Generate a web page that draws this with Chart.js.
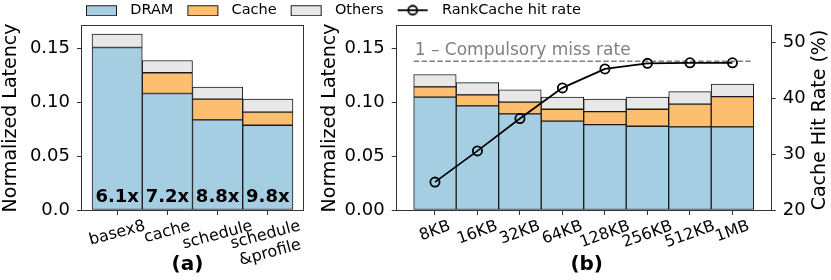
<!DOCTYPE html>
<html><head><meta charset="utf-8">
<script src="https://cdn.jsdelivr.net/npm/chart.js@4.4.0/dist/chart.umd.min.js"></script>
<style>
html,body{margin:0;padding:0;background:#fff;}
#wrap{position:relative;width:831px;height:280px;overflow:hidden;background:#fff;}
#wrap canvas{position:absolute;left:0;top:0;}
</style></head><body>
<div id="wrap">
<canvas id="cA" width="340" height="280"></canvas>
<canvas id="cB" width="831" height="280"></canvas>
</div>
<script>
// ---------------- data ----------------
const variantLabels = [['basex8'], ['cache'], ['schedule'], ['schedule', '&profile']];
const variantDram   = [0.1511, 0.1083, 0.0838, 0.0788];
const variantCache  = [0.0000, 0.0193, 0.0193, 0.0122];
const variantOthers = [0.0125, 0.0114, 0.0111, 0.0121];
const speedupLabels = ['6.1x', '7.2x', '8.8x', '9.8x'];

const sizeLabels = ['8KB', '16KB', '32KB', '64KB', '128KB', '256KB', '512KB', '1MB'];
const sizeDram   = [0.1049, 0.0968, 0.0894, 0.0826, 0.0794, 0.0779, 0.0773, 0.0773];
const sizeCache  = [0.0096, 0.0103, 0.0109, 0.0111, 0.0121, 0.0158, 0.0211, 0.0282];
const sizeOthers = [0.0115, 0.0114, 0.0114, 0.0112, 0.0116, 0.0112, 0.0117, 0.0115];
const hitRate    = [25.0, 30.6, 36.4, 41.9, 45.3, 46.3, 46.4, 46.4];
const compulsoryBound = 46.7;
const boundSpan = [-0.5, 7.43];

const latencyTicksA = [0, 0.05, 0.10, 0.15];
const latencyTicksB = [0, 0.05, 0.10, 0.15];
const hitTicks = [20, 30, 40, 50];

// ---------------- style ----------------
const FONT = "'DejaVu Sans', sans-serif";
Chart.defaults.font.family = FONT;
Chart.defaults.color = '#000';
const C_DRAM = '#a6cee3', C_CACHE = '#fdbf6f', C_OTHER = '#e8e8e8', EDGE = '#1a1a1a', AX = '#333';

function xy(arr) { return arr.map((v, i) => ({x: i, y: v})); }
function barDs(label, arr, color) {
  return {type: 'bar', label, data: xy(arr), xAxisID: 'x', yAxisID: 'y', backgroundColor: color, borderColor: EDGE,
    borderWidth: 1, borderSkipped: false, categoryPercentage: 1, barPercentage: 1, order: 1};
}
const gridOpt = {drawOnChartArea: false, drawTicks: true, tickLength: 5, tickColor: AX, tickWidth: 1, color: AX, offset: false};

function setTicks(values) { return s => { s.ticks = values.map(v => ({value: v})); }; }

function drawTickLabels(chart, labels, angleDeg, fontSize) {
  const ctx = chart.ctx, xs = chart.scales.x, a = chart.chartArea;
  const th = angleDeg * Math.PI / 180;
  ctx.save();
  ctx.font = fontSize + 'px ' + FONT;
  ctx.fillStyle = '#000';
  ctx.textAlign = 'center'; ctx.textBaseline = 'middle';
  const lh = fontSize * 1.15;
  labels.forEach((lines, i) => {
    const arr = Array.isArray(lines) ? lines : [lines];
    const W = Math.max(...arr.map(s => ctx.measureText(s).width));
    const H = arr.length * lh;
    const bh = W * Math.sin(th) + H * Math.cos(th);
    const cx = xs.getPixelForValue(i);
    const cy = a.bottom + 7 + bh / 2;
    ctx.save(); ctx.translate(cx, cy); ctx.rotate(-th);
    arr.forEach((s, j) => ctx.fillText(s, 0, (j - (arr.length - 1) / 2) * lh));
    ctx.restore();
  });
  ctx.restore();
}
function drawFrame(chart) {
  const ctx = chart.ctx, a = chart.chartArea;
  ctx.save(); ctx.strokeStyle = AX; ctx.lineWidth = 1;
  ctx.strokeRect(Math.round(a.left) - 0.5, Math.round(a.top) - 0.5, Math.round(a.right - a.left) + 1, Math.round(a.bottom - a.top) + 1);
  ctx.restore();
}
function drawSubLabel(chart, text, dx) {
  const ctx = chart.ctx, a = chart.chartArea;
  ctx.save(); ctx.font = 'bold 20px ' + FONT; ctx.fillStyle = '#000';
  ctx.textAlign = 'center'; ctx.textBaseline = 'middle';
  ctx.fillText(text, (a.left + a.right) / 2 + dx, a.bottom + 55);
  ctx.restore();
}

// ---------------- chart (a) ----------------
new Chart(document.getElementById('cA'), {
  type: 'bar',
  data: { datasets: [ barDs('DRAM', variantDram, C_DRAM), barDs('Cache', variantCache, C_CACHE), barDs('Others', variantOthers, C_OTHER) ] },
  options: {
    responsive: false, animation: false, events: [], devicePixelRatio: 1,
    layout: { padding: {top: 26, left: 0, right: 37, bottom: 0} },
    plugins: { legend: {display: false}, tooltip: {enabled: false} },
    scales: {
      x: { type: 'linear', min: -0.7, max: 3.7, offset: false, stacked: true, afterBuildTicks: setTicks(variantLabels.map((_, i) => i)),
           ticks: {display: false}, grid: gridOpt, border: {display: false},
           afterFit: s => { s.height = 70; } },
      y: { type: 'linear', min: 0, max: 0.1711, stacked: true, afterBuildTicks: setTicks(latencyTicksA),
           ticks: { font: {size: 18}, color: '#000', padding: 7, callback: v => v === 0 ? '0.0' : v.toFixed(2) },
           grid: gridOpt, border: {display: false},
           title: { display: true, text: 'Normalized Latency', font: {size: 19}, color: '#000', padding: 0 },
           afterFit: s => { s.width = 82; } }
    }
  },
  plugins: [{
    id: 'decorA',
    afterDraw(chart) {
      drawFrame(chart);
      drawTickLabels(chart, variantLabels, 15, 16);
      const ctx = chart.ctx, a = chart.chartArea, meta = chart.getDatasetMeta(0);
      ctx.save(); ctx.font = 'bold 18px ' + FONT; ctx.fillStyle = '#000';
      ctx.textAlign = 'center'; ctx.textBaseline = 'middle';
      speedupLabels.forEach((t, i) => ctx.fillText(t, meta.data[i].x, a.bottom - 13));
      ctx.restore();
      drawSubLabel(chart, '(a)', -5);
    }
  }]
});

// ---------------- legend icons ----------------
function swatch(color) {
  const c = document.createElement('canvas'); c.width = 51; c.height = 12;
  const g = c.getContext('2d');
  g.fillStyle = color; g.fillRect(14.5, 1.5, 30, 10);
  g.strokeStyle = EDGE; g.lineWidth = 1; g.strokeRect(14.5, 1.5, 30, 10);
  return c;
}
function lineIcon() {
  const c = document.createElement('canvas'); c.width = 51; c.height = 12;
  const g = c.getContext('2d');
  g.strokeStyle = '#000'; g.lineWidth = 1.8;
  g.beginPath(); g.moveTo(14, 6); g.lineTo(44, 6); g.stroke();
  g.beginPath(); g.arc(29, 6, 4.5, 0, Math.PI * 2); g.stroke();
  return c;
}
const legendIcons = [swatch(C_DRAM), swatch(C_CACHE), swatch(C_OTHER), lineIcon()];

// ---------------- chart (b) ----------------
new Chart(document.getElementById('cB'), {
  type: 'bar',
  data: { datasets: [
    barDs('DRAM', sizeDram, C_DRAM), barDs('Cache', sizeCache, C_CACHE), barDs('Others', sizeOthers, C_OTHER),
    { type: 'line', label: 'RankCache hit rate', data: xy(hitRate), xAxisID: 'x', yAxisID: 'y2', order: 0,
      borderColor: '#000', borderWidth: 1.8, tension: 0, pointRadius: 4.6, pointBorderWidth: 1.8,
      pointBorderColor: '#000', pointBackgroundColor: 'rgba(0,0,0,0)' },
    { type: 'line', label: 'bound', data: boundSpan.map(x => ({x, y: compulsoryBound})), xAxisID: 'x', yAxisID: 'y2', order: 0,
      borderColor: '#808080', borderWidth: 1.5, borderDash: [5.5, 2.4], pointRadius: 0 }
  ] },
  options: {
    responsive: false, animation: false, events: [], devicePixelRatio: 1,
    layout: { padding: {top: 1.5, left: 0, right: 0, bottom: 0} },
    plugins: {
      tooltip: {enabled: false},
      legend: { display: true, position: 'top', align: 'start',
        labels: { usePointStyle: true, pointStyleWidth: 51, boxHeight: 12, padding: 0,
          font: {size: 14.5}, color: '#000',
          generateLabels: chart => chart.data.datasets.slice(0, 4).map((ds, i) => ({
            text: ds.label, pointStyle: legendIcons[i], datasetIndex: i, hidden: false, lineWidth: 0,
            fillStyle: 'rgba(0,0,0,0)', strokeStyle: 'rgba(0,0,0,0)', fontColor: '#000' })) } }
    },
    scales: {
      x: { type: 'linear', min: -0.9, max: 7.9, offset: false, stacked: true, afterBuildTicks: setTicks(sizeLabels.map((_, i) => i)),
           ticks: {display: false}, grid: gridOpt, border: {display: false},
           afterFit: s => { s.height = 70; } },
      y: { type: 'linear', position: 'left', weight: 0, min: 0, max: 0.1711, stacked: true, afterBuildTicks: setTicks(latencyTicksB),
           ticks: { font: {size: 18}, color: '#000', padding: 7, callback: v => v.toFixed(2) },
           grid: gridOpt, border: {display: false},
           title: { display: true, text: 'Normalized Latency', font: {size: 19}, color: '#000', padding: 0 },
           afterFit: s => { s.width = 78; } },
      y2: { type: 'linear', position: 'right', min: 20, max: 53, afterBuildTicks: setTicks(hitTicks),
           ticks: { font: {size: 18}, color: '#000', padding: 7 },
           grid: gridOpt, border: {display: false},
           afterFit: s => { s.width = 60.3; } },
      pad: { type: 'linear', position: 'left', weight: 10, display: true,
             ticks: {display: false}, grid: {display: false}, border: {display: false},
             afterFit: s => { s.width = 318.7; } }
    }
  },
  plugins: [{
    id: 'decorB',
    afterLayout(chart) {
      const lg = chart.legend; if (!lg) return;
      lg.left = 72; lg.top += 1.5; lg.bottom += 1.5;
    },
    afterDraw(chart) {
      drawFrame(chart);
      drawTickLabels(chart, sizeLabels, 20, 16);
      drawSubLabel(chart, '(b)', 3);
      const ctx = chart.ctx, a = chart.chartArea, xs = chart.scales.x, y2 = chart.scales.y2;
      ctx.save();
      ctx.font = '17px ' + FONT; ctx.fillStyle = '#808080';
      ctx.textAlign = 'left'; ctx.textBaseline = 'alphabetic';
      ctx.fillText('1 \u2013 Compulsory miss rate', xs.getPixelForValue(boundSpan[0]) + 1, y2.getPixelForValue(compulsoryBound) - 6.5);
      ctx.restore();
      ctx.save();
      ctx.font = '19px ' + FONT; ctx.fillStyle = '#000';
      ctx.textAlign = 'center'; ctx.textBaseline = 'middle';
      ctx.translate(y2.right - 10.5, (a.top + a.bottom) / 2 + 2); ctx.rotate(-Math.PI / 2);
      ctx.fillText('Cache Hit Rate (%)', 0, 0);
      ctx.restore();
    }
  }]
});
</script>
</body></html>
